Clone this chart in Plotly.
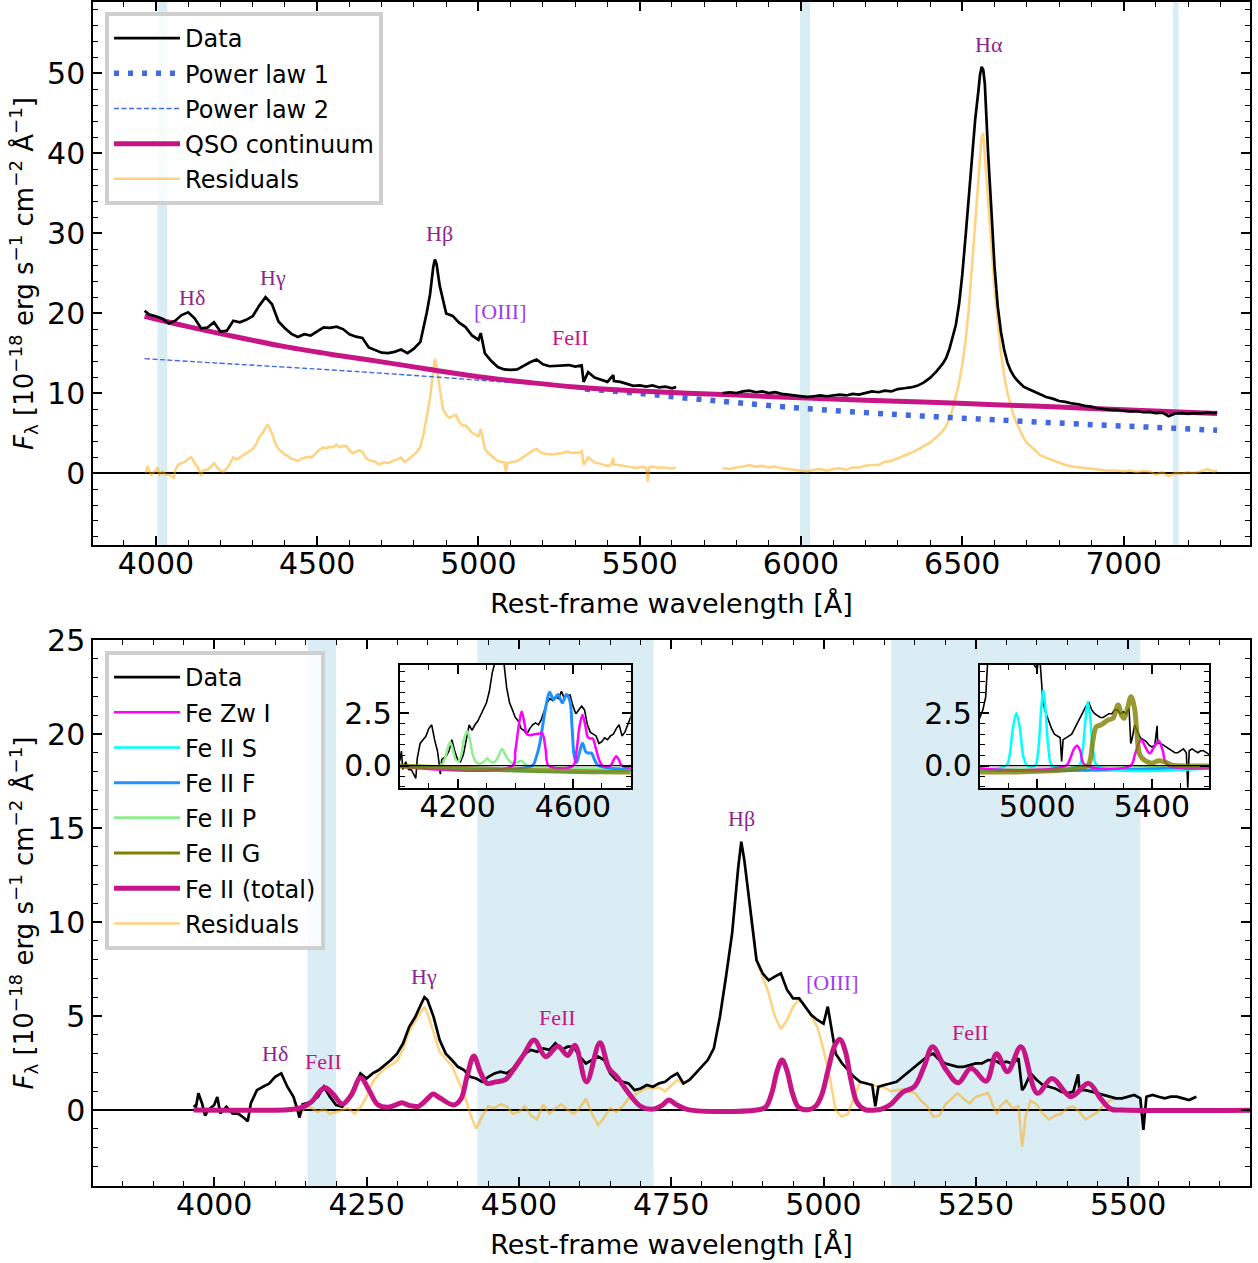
import plotly.graph_objects as go

FONT = "DejaVu Sans"
SERIF = "Liberation Serif"
MVR = "#c71585"
ORANGE = "rgba(255,165,0,0.5)"
BAND = "rgba(173,216,230,0.45)"

# ---------------- continuum-subtracted spectrum (bottom "Data", top "Residuals") -------------
cs_wl = [3966, 3970, 3974, 3980, 3985, 3990, 4000, 4005, 4010, 4020,
         4030, 4040, 4050, 4055, 4060, 4070, 4080, 4090, 4100, 4110,
         4120, 4130, 4135, 4140, 4145, 4150, 4160, 4170, 4180, 4190,
         4200, 4210, 4220, 4230, 4240, 4250, 4260, 4270, 4280, 4290,
         4300, 4310, 4320, 4330, 4340, 4345, 4350, 4360, 4370, 4380,
         4390, 4400, 4410, 4420, 4430, 4440, 4450, 4460, 4470, 4480,
         4490, 4500, 4510, 4520, 4530, 4540, 4550, 4560, 4570, 4580,
         4590, 4600, 4610, 4620, 4630, 4640, 4650, 4660, 4670, 4680,
         4690, 4700, 4710, 4720, 4730, 4740, 4750, 4760, 4770, 4780,
         4790, 4800, 4810, 4820, 4830, 4840, 4850, 4860, 4865, 4870,
         4880, 4890, 4900, 4910, 4920, 4930, 4940, 4950, 4960, 4970,
         4980, 4990, 5000, 5007, 5015, 5020, 5030, 5040, 5050, 5060,
         5070, 5080, 5085, 5090, 5100, 5110, 5120, 5130, 5140, 5150,
         5160, 5170, 5180, 5190, 5200, 5210, 5220, 5230, 5240, 5250,
         5260, 5270, 5280, 5290, 5300, 5310, 5320, 5326, 5330, 5340,
         5350, 5360, 5370, 5380, 5390, 5400, 5410, 5418, 5420, 5430,
         5440, 5450, 5460, 5470, 5480, 5490, 5500, 5510, 5520, 5525,
         5530, 5540, 5550, 5560, 5570, 5580, 5590, 5600, 5612]
cs_flux = [0.25, 0.18, 0.9, 0.35, -0.3, 0.0, 0.27, 0.7, -0.18, 0.18,
           -0.18, -0.2, -0.45, -0.6, 0.35, 1.06, 1.24, 1.4, 1.77, 1.95,
           1.24, 0.7, 0.2, -0.4, 0.3, 0.35, 0.44, 0.7, 1.24, 0.7,
           0.27, 0.18, 0.53, 1.24, 1.95, 1.68, 1.95, 2.13, 2.4, 2.66,
           3.0, 3.55, 4.43, 4.96, 5.67, 6.0, 5.85, 4.96, 3.72, 3.0,
           2.66, 2.3, 2.13, 1.77, 1.68, 1.5, 1.77, 1.95, 2.04, 1.95,
           2.2, 2.66, 3.0, 3.2, 3.1, 3.28, 3.2, 3.55, 3.2, 3.37,
           3.37, 2.84, 2.48, 2.66, 2.84, 2.66, 1.95, 1.6, 1.5, 1.42,
           1.06, 1.15, 1.33, 1.24, 1.42, 1.5, 1.77, 1.95, 1.42, 1.6,
           1.95, 2.3, 2.66, 3.28, 4.96, 7.1, 9.4, 12.9, 14.27, 13.3,
           10.6, 7.98, 7.27, 6.9, 7.1, 7.27, 6.4, 5.94, 5.94, 5.5,
           5.05, 4.79, 4.6, 5.5, 4.08, 3.0, 2.5, 2.13, 1.77, 1.5,
           1.42, 1.33, 0.2, 1.24, 1.33, 1.42, 1.5, 1.77, 2.04, 2.3,
           2.57, 2.84, 3.0, 2.66, 2.48, 2.4, 2.3, 2.3, 2.4, 2.48,
           2.48, 2.66, 2.66, 2.48, 2.57, 2.48, 2.75, 1.06, 1.24, 1.95,
           1.6, 1.33, 1.24, 1.15, 0.98, 0.89, 0.98, 1.9, 1.06, 1.06,
           0.98, 0.89, 0.8, 0.71, 0.62, 0.62, 0.71, 0.8, 0.62, -1.06,
           0.71, 0.8, 0.71, 0.62, 0.71, 0.71, 0.62, 0.53, 0.71]

# red part of the spectrum (top panel only)
red_wl = [5757, 5780, 5800, 5820, 5840, 5860, 5880, 5900, 5920, 5940,
          5960, 5980, 6000, 6020, 6040, 6060, 6080, 6100, 6120, 6140,
          6160, 6180, 6200, 6220, 6240, 6260, 6280, 6300, 6320, 6340,
          6360, 6380, 6400, 6420, 6440, 6450, 6460, 6470, 6480, 6490,
          6500, 6510, 6520, 6530, 6540, 6550, 6555, 6560, 6565, 6570,
          6575, 6580, 6590, 6600, 6610, 6620, 6630, 6640, 6650, 6660,
          6670, 6680, 6690, 6700, 6720, 6740, 6760, 6780, 6800, 6820,
          6840, 6860, 6880, 6900, 6920, 6940, 6960, 6980, 7000, 7020,
          7040, 7060, 7080, 7100, 7120, 7140, 7160, 7180, 7200, 7220,
          7240, 7260, 7280, 7290]
red_obs = [10.0, 10.1, 10.0, 10.2, 10.3, 10.1, 10.2, 10.0, 10.1, 9.9,
           9.8, 9.7, 9.6, 9.5, 9.6, 9.7, 9.6, 9.7, 9.8, 9.7,
           9.9, 9.8, 10.0, 10.2, 10.1, 10.3, 10.2, 10.5, 10.6, 10.7,
           10.9, 11.3, 11.9, 12.7, 13.7, 14.4, 15.5, 16.9, 18.5, 21.1,
           24.8, 29.5, 34.8, 40.0, 44.2, 47.8, 49.8, 50.8, 50.4, 48.6,
           44.0, 40.0, 33.0, 25.8, 20.8, 17.6, 15.4, 13.8, 12.8, 12.1,
           11.6, 11.2, 10.8, 10.6, 10.2, 9.8, 9.5, 9.3, 9.0, 8.9,
           8.7, 8.6, 8.4, 8.3, 8.1, 8.0, 7.9, 7.9, 7.8, 7.7,
           7.75, 7.6, 7.65, 7.5, 7.55, 7.1, 7.45, 7.5, 7.4, 7.5,
           7.45, 7.55, 7.5, 7.6]
red_res = [0.6, 0.5, 0.7, 0.8, 1.0, 0.8, 0.9, 0.7, 0.8, 0.6,
           0.5, 0.4, 0.3, 0.2, 0.4, 0.5, 0.3, 0.5, 0.6, 0.4,
           0.7, 0.7, 0.9, 1.0, 1.0, 1.4, 1.5, 1.8, 2.1, 2.5,
           2.9, 3.3, 3.8, 4.5, 5.3, 5.9, 6.8, 8.0, 9.5, 11.3,
           13.6, 16.5, 20.5, 25.5, 31.5, 36.6, 39.5, 42.0, 42.5, 39.5,
           36.5, 34.0, 28.5, 23.0, 18.5, 15.0, 12.2, 10.0, 8.5, 7.1,
           6.1, 5.2, 4.4, 3.8, 3.0, 2.3, 1.9, 1.6, 1.3, 1.0,
           0.8, 0.7, 0.6, 0.5, 0.4, 0.35, 0.3, 0.3, 0.2, 0.3,
           0.1, 0.25, 0.2, -0.2, 0.1, -0.4, 0.0, -0.1, 0.1, 0.0,
           0.2, 0.5, 0.2, 0.3]

# observed flux, blue part (top panel)
blue_wl = [3965, 3980, 4000, 4020, 4040, 4060, 4080, 4100, 4120, 4140,
           4160, 4180, 4200, 4220, 4240, 4260, 4280, 4300, 4320, 4340,
           4360, 4380, 4400, 4420, 4440, 4460, 4480, 4500, 4520, 4540,
           4560, 4580, 4600, 4620, 4640, 4660, 4680, 4700, 4720, 4740,
           4760, 4780, 4800, 4820, 4840, 4850, 4860, 4865, 4870, 4880,
           4900, 4920, 4940, 4960, 4980, 5000, 5007, 5020, 5040, 5060,
           5080, 5100, 5120, 5140, 5160, 5180, 5200, 5220, 5240, 5260,
           5280, 5300, 5320, 5326, 5340, 5360, 5380, 5400, 5418, 5420,
           5440, 5460, 5480, 5500, 5520, 5540, 5560, 5580, 5600, 5613]
blue_obs = [20.3, 19.8, 19.6, 19.3, 18.7, 19.05, 19.75, 20.1, 19.35, 18.1,
            18.2, 18.85, 17.7, 17.8, 19.05, 18.85, 19.15, 19.6, 20.9, 22.0,
            21.1, 18.95, 18.1, 17.4, 17.0, 17.35, 17.2, 17.75, 18.2, 18.15,
            18.3, 18.0, 17.35, 17.05, 16.9, 15.7, 15.4, 15.05, 15.0, 15.15,
            15.45, 15.0, 15.55, 16.4, 20.1, 22.35, 25.8, 26.7, 26.15, 23.4,
            19.95, 19.65, 18.8, 18.25, 17.2, 16.65, 17.5, 14.95, 14.0, 13.25,
            12.95, 12.9, 12.95, 13.45, 13.85, 14.2, 13.6, 13.35, 13.4, 13.4,
            13.5, 13.3, 13.45, 11.4, 12.6, 11.95, 11.7, 11.4, 12.25, 11.5,
            11.4, 11.15, 10.9, 10.95, 10.8, 10.95, 10.7, 10.8, 10.6, 10.75]

# continuum components (top)
cont_wl = [3965, 4100, 4250, 4400, 4550, 4700, 4850, 5000, 5150, 5300,
           5500, 5800, 6000, 6200, 6400, 6600, 6800, 7000, 7290]
cont_flux = [19.6, 18.3, 17.0, 15.8, 14.8, 13.9, 12.95, 12.05, 11.35, 10.75,
             10.25, 9.75, 9.4, 9.1, 8.85, 8.55, 8.25, 7.9, 7.45]
pl2_wl = [3965, 4250, 4540, 4800, 5057, 5300, 5500]
pl2_flux = [14.3, 13.6, 12.9, 12.2, 11.45, 10.8, 10.3]
pl1_wl = [5330, 5500, 5650, 5800, 6000, 6300, 6600, 6900, 7100, 7290]
pl1_flux = [10.5, 9.95, 9.35, 8.8, 8.1, 7.3, 6.65, 6.05, 5.7, 5.35]

# bottom residuals (data - Fe II), two segments
res1_wl = [4130, 4140, 4150, 4160, 4170, 4180, 4190, 4200, 4210, 4220,
           4230, 4240, 4250, 4260, 4270, 4280, 4290, 4300, 4310, 4320,
           4330, 4340, 4345, 4350, 4360, 4370, 4380, 4390, 4400, 4410,
           4420, 4430, 4440, 4450, 4460, 4470, 4480, 4490, 4500, 4510,
           4520, 4530, 4540, 4550, 4560, 4570, 4580, 4590, 4600, 4610,
           4620, 4630, 4640, 4650, 4660, 4670, 4680, 4690, 4700, 4710,
           4720, 4730, 4740, 4750, 4760, 4770, 4780, 4790]
res1_flux = [0.5, -0.3, 0.2, 0.1, -0.1, 0.05, -0.2, -0.1, 0.0, 0.1,
             -0.2, 0.15, 0.7, 1.5, 1.9, 2.2, 2.4, 2.6, 3.25, 4.2,
             4.75, 5.3, 5.5, 5.15, 4.1, 3.1, 2.7, 2.36, 1.6, 0.9,
             -0.2, -1.0, -0.3, 0.2, 0.1, 0.3, 0.2, -0.2, -0.1, 0.2,
             -0.3, -0.5, 0.3, -0.2, 0.1, 0.3, 0.0, -0.2, 0.1, 0.6,
             -0.2, -0.8, -0.4, 0.1, -0.1, 0.2, 0.6, 0.8, 1.0, 1.2,
             1.15, 1.2, 1.0, 1.3, 1.6, 1.4, 1.6, 1.95]
res2_wl = [4880, 4890, 4900, 4910, 4920, 4930, 4940, 4950, 4960, 4970,
           4980, 4990, 5000, 5010, 5020, 5030, 5040, 5050, 5060, 5070,
           5080, 5090, 5100, 5110, 5120, 5130, 5140, 5150, 5160, 5170,
           5180, 5190, 5200, 5210, 5220, 5230, 5240, 5250, 5260, 5270,
           5280, 5285, 5290, 5300, 5310, 5320, 5326, 5332, 5340, 5350,
           5360, 5370, 5380, 5390, 5400, 5410, 5420, 5430, 5440, 5450,
           5460, 5470, 5480]
res2_flux = [10.6, 7.98, 7.1, 6.2, 5.0, 4.3, 4.8, 5.5, 5.9, 5.5,
             5.0, 4.4, 3.2, 1.8, 0.0, -0.35, -0.2, 0.6, 1.5, 1.42,
             1.33, 1.24, 1.2, 1.0, 1.05, 1.1, 1.0, 0.9, 0.5, 0.2,
             -0.35, -0.3, 0.3, 0.6, 0.9, 0.6, 0.35, 0.7, 0.8, 0.9,
             0.1, -0.2, 0.2, 0.5, 0.1, 0.2, -1.95, -0.3, 0.5, 0.3,
             -0.2, -0.5, -0.3, -0.2, 0.1, 0.2, -0.1, -0.5, -0.3, -0.1,
             0.3, 0.5, 0.62]

# Fe II total template
fe_wl = [3966, 4120, 4140, 4160, 4172, 4182, 4195, 4210, 4225, 4240,
         4255, 4268, 4285, 4300, 4308, 4320, 4335, 4350, 4359, 4370,
         4393, 4405, 4415, 4426, 4437, 4448, 4462, 4478, 4490, 4508,
         4525, 4544, 4564, 4580, 4592, 4611, 4633, 4648, 4661, 4680,
         4700, 4720, 4735, 4746, 4758, 4778, 4890, 4905, 4915, 4924,
         4932, 4940, 4949, 4959, 4975, 4987, 4997, 5008, 5018, 5027,
         5036, 5045, 5055, 5068, 5085, 5095, 5110, 5130, 5149, 5165,
         5179, 5200, 5221, 5242, 5267, 5284, 5302, 5324, 5351, 5375,
         5406, 5435, 5455, 5472, 5490, 5720]
fe_total = [0, 0.02, 0.1, 0.45, 0.95, 1.19, 0.85, 0.32, 0.8, 1.72,
            1.0, 0.3, 0.15, 0.3, 0.39, 0.25, 0.2, 0.6, 0.85, 0.65,
            0.27, 0.6, 1.8, 2.87, 2.0, 1.42, 1.5, 1.62, 2.1, 2.95,
            3.72, 2.84, 3.4, 2.9, 3.45, 1.5, 3.58, 2.2, 1.77, 0.9,
            0.2, 0.05, 0.25, 0.53, 0.3, 0.02, 0.0, 0.15, 0.9, 2.1,
            2.66, 2.1, 0.9, 0.15, 0.02, 0.2, 0.8, 2.2, 3.4, 3.76,
            3.1, 1.6, 0.4, 0.02, 0.0, 0.05, 0.3, 0.95, 1.24, 2.3,
            3.37, 2.2, 1.45, 2.22, 1.54, 3.0, 2.04, 3.37, 0.89, 1.68,
            0.71, 1.42, 0.6, 0.05, 0.0, 0.0]

# individual Fe II templates (insets)
zw_wl = [3966, 4390, 4400, 4412, 4422, 4432, 4440, 4452, 4465, 4480,
         4493, 4505, 4516, 4600, 4612, 4623, 4633, 4643, 4652, 4660,
         4668, 4678, 4690, 4703, 4730, 4740, 4750, 4760, 4770, 5100,
         5115, 5128, 5139, 5150, 5165, 5325, 5340, 5352, 5363, 5375,
         5392, 5408, 5424, 5438, 5454, 5720]
zw_flux = [0, 0, 0.7, 1.9, 2.58, 2.0, 1.5, 1.45, 1.5, 1.52,
           1.55, 0.8, 0, 0, 0.7, 1.9, 2.42, 1.9, 1.35, 1.3,
           1.3, 0.9, 0.3, 0, 0, 0.25, 0.45, 0.25, 0, 0,
           0.35, 0.8, 0.95, 0.7, 0.05, 0, 0.5, 1.0, 1.23, 0.95,
           0.59, 0.9, 1.18, 0.7, 0.05, 0]
s_wl = [3966, 4890, 4902, 4915, 4927, 4939, 4952, 4965, 4992, 5003,
        5013, 5021, 5029, 5040, 5052, 5145, 5157, 5168, 5176, 5185,
        5196, 5210, 5720]
s_flux = [0, 0, 0.4, 1.8, 2.5, 1.8, 0.4, 0, 0, 0.7,
          2.6, 3.61, 2.6, 0.7, 0, 0, 0.6, 2.2, 3.05, 2.2,
          0.6, 0, 0]
f_wl = [3966, 4458, 4470, 4484, 4496, 4507, 4519, 4533, 4548, 4563,
        4577, 4589, 4597, 4604, 4612, 4622, 4633, 4645, 4655, 4664,
        4676, 4690, 5720]
f_flux = [0, 0, 0.3, 1.0, 2.0, 2.9, 3.5, 3.15, 3.4, 3.0,
          3.4, 3.1, 1.8, 0.5, 0.15, 0.6, 1.07, 0.65, 0.6, 0.6,
          0.25, 0, 0]
p_wl = [3966, 4140, 4155, 4165, 4174, 4183, 4193, 4203, 4213, 4223,
        4233, 4243, 4253, 4265, 4280, 4295, 4303, 4312, 4325, 4340,
        4354, 4368, 4385, 4400, 4412, 4422, 4432, 4445, 5720]
p_flux = [0, 0, 0.3, 0.8, 1.12, 0.8, 0.3, 0.2, 0.55, 1.3,
          1.66, 1.2, 0.5, 0.15, 0.1, 0.25, 0.35, 0.22, 0.15, 0.4,
          0.8, 0.45, 0.15, 0.1, 0.2, 0.22, 0.1, 0, 0]
g_wl = [3966, 5175, 5185, 5194, 5206, 5223, 5247, 5264, 5282, 5294,
        5303, 5315, 5327, 5339, 5347, 5358, 5376, 5400, 5423, 5446,
        5470, 5490, 5720]
g_flux = [0, 0, 0.3, 1.2, 1.86, 1.95, 2.18, 2.26, 2.9, 2.4,
          2.26, 2.75, 3.29, 2.75, 1.65, 0.51, 0.24, 0.12, 0.24, 0.17,
          0.03, 0, 0]

# masked (fitting) windows
top_bands = [(4005, 4035), (5997, 6028), (7153, 7171)]
bot_bands = [(4153, 4200), (4432, 4721), (5111, 5520)]

# line labels
H_COL = "#8e2490"
O_COL = "#9a40f2"
top_labels = [("Hδ", 4111, 21.9, H_COL), ("Hγ", 4363, 24.5, H_COL), ("Hβ", 4880, 29.9, H_COL),
              ("[OIII]", 5067, 20.25, O_COL), ("FeII", 5284, 17.0, MVR), ("Hα", 6583, 53.6, H_COL)]
bot_labels = [("Hδ", 4100, 3.03, H_COL), ("FeII", 4179, 2.6, MVR), ("Hγ", 4345, 7.13, H_COL),
              ("FeII", 4563, 4.9, MVR), ("Hβ", 4865, 15.5, H_COL), ("[OIII]", 5014, 6.8, O_COL),
              ("FeII", 5241, 4.1, MVR)]

fig = go.Figure()

# ---------------- top panel ----------------
fig.add_trace(go.Scatter(x=cs_wl + [None] + red_wl, y=cs_flux + [None] + red_res, mode="lines",
                         line=dict(color=ORANGE, width=2.5), name="Residuals",
                         legend="legend", legendgroup="t5", legendrank=5, xaxis="x", yaxis="y"))
fig.add_trace(go.Scatter(x=pl2_wl, y=pl2_flux, mode="lines", line_shape="spline",
                         line=dict(color="royalblue", width=1.4, dash="5px,2.5px"), name="Power law 2",
                         legend="legend", legendgroup="t3", legendrank=3, xaxis="x", yaxis="y"))
fig.add_trace(go.Scatter(x=pl1_wl, y=pl1_flux, mode="lines", line_shape="spline",
                         line=dict(color="royalblue", width=5.5, dash="5px,9px"), name="Power law 1",
                         legend="legend", legendgroup="t2", legendrank=2, xaxis="x", yaxis="y"))
fig.add_trace(go.Scatter(x=cont_wl, y=cont_flux, mode="lines", line_shape="spline",
                         line=dict(color=MVR, width=5), name="QSO continuum",
                         legend="legend", legendgroup="t4", legendrank=4, xaxis="x", yaxis="y"))
fig.add_trace(go.Scatter(x=blue_wl + [None] + red_wl, y=blue_obs + [None] + red_obs, mode="lines",
                         line=dict(color="black", width=2.7), name="Data",
                         legend="legend", legendgroup="t1", legendrank=1, xaxis="x", yaxis="y"))

# ---------------- bottom panel ----------------
fig.add_trace(go.Scatter(x=res1_wl + [None] + res2_wl, y=res1_flux + [None] + res2_flux, mode="lines",
                         line=dict(color=ORANGE, width=2.5), name="Residuals",
                         legend="legend2", legendgroup="b8", legendrank=18, xaxis="x2", yaxis="y2"))
fig.add_trace(go.Scatter(x=cs_wl, y=cs_flux, mode="lines", line=dict(color="black", width=2.7),
                         name="Data", legend="legend2", legendgroup="b1", legendrank=11,
                         xaxis="x2", yaxis="y2"))
fig.add_trace(go.Scatter(x=fe_wl, y=fe_total, mode="lines", line_shape="spline",
                         line=dict(color=MVR, width=5), name="Fe II (total)",
                         legend="legend2", legendgroup="b7", legendrank=17, xaxis="x2", yaxis="y2"))

comp = [("Fe Zw I", "#ff00ff", 2.5, "b2", 12),
        ("Fe II S", "cyan", 2.5, "b3", 13),
        ("Fe II F", "#1e90ff", 3, "b4", 14),
        ("Fe II P", "#90ee90", 3, "b5", 15),
        ("Fe II G", "olive", 3, "b6", 16)]
for name, col, w, grp, rank in comp:
    fig.add_trace(go.Scatter(x=[None], y=[None], mode="lines", line=dict(color=col, width=w),
                             name=name, legend="legend2", legendgroup=grp, legendrank=rank,
                             xaxis="x2", yaxis="y2"))

# ---------------- insets ----------------
for xa, ya in (("x3", "y3"), ("x4", "y4")):
    fig.add_trace(go.Scatter(x=cs_wl, y=cs_flux, mode="lines", line=dict(color="black", width=1.6),
                             showlegend=False, xaxis=xa, yaxis=ya))
    fig.add_trace(go.Scatter(x=p_wl, y=p_flux, mode="lines", line_shape="spline",
                             line=dict(color="#90ee90", width=2.5), showlegend=False, xaxis=xa, yaxis=ya))
    fig.add_trace(go.Scatter(x=f_wl, y=f_flux, mode="lines", line_shape="spline",
                             line=dict(color="#1e90ff", width=3), showlegend=False, xaxis=xa, yaxis=ya))
    fig.add_trace(go.Scatter(x=s_wl, y=s_flux, mode="lines", line_shape="spline",
                             line=dict(color="cyan", width=2.5), showlegend=False, xaxis=xa, yaxis=ya))
    fig.add_trace(go.Scatter(x=zw_wl, y=zw_flux, mode="lines", line_shape="spline",
                             line=dict(color="#ff00ff", width=2.5), showlegend=False, xaxis=xa, yaxis=ya))
    fig.add_trace(go.Scatter(x=g_wl, y=g_flux, mode="lines", line_shape="spline",
                             line=dict(color="rgba(128,128,0,0.8)", width=5),
                             showlegend=False, xaxis=xa, yaxis=ya))

shapes = []
for a, b in top_bands:
    shapes.append(dict(type="rect", xref="x", yref="y domain", x0=a, x1=b, y0=0, y1=1,
                       fillcolor=BAND, line=dict(width=0), layer="below"))
for a, b in bot_bands:
    shapes.append(dict(type="rect", xref="x2", yref="y2 domain", x0=a, x1=b, y0=0, y1=1,
                       fillcolor=BAND, line=dict(width=0), layer="below"))
for xa, ya in (("x3", "y3"), ("x4", "y4")):
    shapes.append(dict(type="line", xref=xa + " domain", yref=ya, x0=0, x1=1, y0=0, y1=0,
                       line=dict(color="black", width=1.3), layer="above"))

annotations = []
for txt, x, y, col in top_labels:
    annotations.append(dict(text=txt, x=x, y=y, xref="x", yref="y", showarrow=False,
                            font=dict(family=SERIF, size=22, color=col)))
for txt, x, y, col in bot_labels:
    annotations.append(dict(text=txt, x=x, y=y, xref="x2", yref="y2", showarrow=False,
                            font=dict(family=SERIF, size=22, color=col)))


def ax(rng, dtick, tick0, minor, fs=30, lw=1.5, **kw):
    d = dict(range=rng, dtick=dtick, tick0=tick0, showline=True, linecolor="black", linewidth=lw,
             mirror="allticks", ticks="inside", ticklen=9, tickwidth=1.5, tickcolor="black",
             showgrid=False, zeroline=False, automargin=False,
             tickfont=dict(size=fs, family=FONT, color="black"),
             minor=dict(dtick=minor, ticks="inside", ticklen=5, tickwidth=1.2, tickcolor="black",
                        showgrid=False))
    d.update(kw)
    return d


ytitle = ("<i>F</i><sub>λ</sub> [10<sup>−18</sup> erg s<sup>−1</sup> cm<sup>−2</sup> Å<sup>−1</sup>]")
xtitle = "Rest-frame wavelength [Å]"

leg_common = dict(xanchor="left", yanchor="top", bgcolor="rgba(255,255,255,0.8)",
                  bordercolor="#cfcfcf", borderwidth=4, font=dict(size=24, family=FONT, color="black"),
                  traceorder="grouped", tracegroupgap=1, itemwidth=66)

fig.update_layout(
    width=1258, height=1263,
    margin=dict(l=93, r=8, t=2, b=77),
    paper_bgcolor="white", plot_bgcolor="white",
    font=dict(family=FONT, color="black"),
    xaxis=ax([3805, 7392], 500, 4000, 100, domain=[0, 1], anchor="y", ticklabelstandoff=-9,
             title=dict(text=xtitle, font=dict(size=27), standoff=14)),
    yaxis=ax([-9, 58.9], 10, 0, 2, domain=[0.5414, 1], anchor="x", zeroline=True,
             zerolinecolor="black", zerolinewidth=1.6,
             title=dict(text=ytitle, font=dict(size=26), standoff=6)),
    xaxis2=ax([3801, 5700], 250, 4000, 50, domain=[0, 1], anchor="y2", ticklabelstandoff=-9,
              title=dict(text=xtitle, font=dict(size=27), standoff=14)),
    yaxis2=ax([-4.04, 25.0], 5, 0, 1, domain=[0, 0.4611], anchor="x2", zeroline=True,
              zerolinecolor="black", zerolinewidth=1.6,
              title=dict(text=ytitle, font=dict(size=26), standoff=6)),
    xaxis3=ax([4000, 4800], 400, 4200, 100, lw=2, domain=[0.2653, 0.4647], anchor="y3",
              ticklabelstandoff=-9),
    yaxis3=ax([-1.05, 4.8], 2.5, 0, 0.5, lw=2, domain=[0.3364, 0.4400], anchor="x3", tickformat=".1f"),
    xaxis4=ax([4800, 5600], 400, 5000, 100, lw=2, domain=[0.7666, 0.9648], anchor="y4",
              ticklabelstandoff=-9),
    yaxis4=ax([-1.05, 4.8], 2.5, 0, 0.5, lw=2, domain=[0.3364, 0.4400], anchor="x4", tickformat=".1f"),
    legend=dict(x=0.0104, y=0.9916, **leg_common),
    legend2=dict(x=0.0104, y=0.4519, **leg_common),
    shapes=shapes,
    annotations=annotations,
    showlegend=True,
)

fig.write_html("out.html", config={"displayModeBar": False},
               post_script="document.body.style.margin='0px';document.body.style.overflow='hidden';")
